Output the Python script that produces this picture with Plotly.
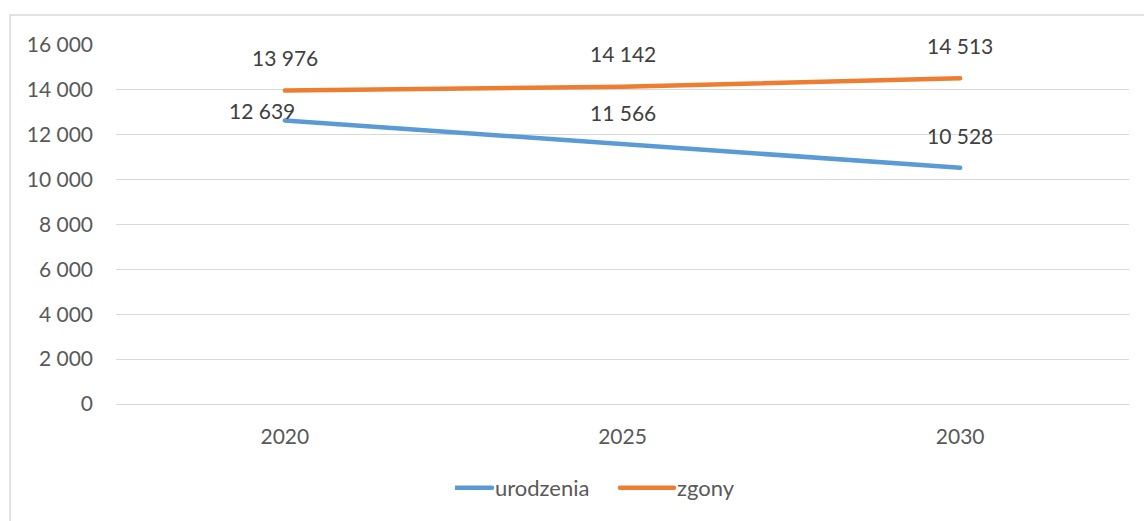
import plotly.graph_objects as go

years = ["2020", "2025", "2030"]
urodzenia = [12639, 11566, 10528]
zgony = [13976, 14142, 14513]
y_ticks = [0, 2000, 4000, 6000, 8000, 10000, 12000, 14000, 16000]

def fmt(v):
    return f"{v:,}".replace(",", " ")

FONT = "Lato, 'Open Sans', sans-serif"

fig = go.Figure()
fig.add_trace(go.Scatter(x=years, y=urodzenia, mode="lines", name="urodzenia",
                         line=dict(color="#5B9BD5", width=4.5)))
fig.add_trace(go.Scatter(x=years, y=zgony, mode="lines", name="zgony",
                         line=dict(color="#ED7D31", width=4.5)))

# data labels (category index positions)
blue_xshift = [-23, 0, 0]
blue_yshift = [10, 32, 32]
for i, v in enumerate(urodzenia):
    fig.add_annotation(x=i, y=v, text=fmt(v), showarrow=False,
                       xshift=blue_xshift[i], yshift=blue_yshift[i],
                       font=dict(family=FONT, size=21, color="#404040"))
for i, v in enumerate(zgony):
    fig.add_annotation(x=i, y=v, text=fmt(v), showarrow=False, yshift=33,
                       font=dict(family=FONT, size=21, color="#404040"))

# chart border
fig.add_shape(type="rect", xref="paper", yref="paper",
              x0=-0.1046, x1=1.2, y0=-0.6, y1=1.0836,
              line=dict(color="#D9D9D9", width=1.5), layer="below")

fig.update_layout(
    width=1144, height=521,
    margin=dict(l=116, r=15, t=45, b=117),
    paper_bgcolor="white", plot_bgcolor="white",
    font=dict(family=FONT, size=21, color="#595959"),
    showlegend=True,
    legend=dict(orientation="h", x=(455 - 116) / 1013, xanchor="left",
                y=(404 - 488) / 359, yanchor="middle",
                entrywidth=137, entrywidthmode="pixels",
                font=dict(family=FONT, size=22, color="#595959"),
                bgcolor="rgba(0,0,0,0)"),
    xaxis=dict(type="category", range=[-0.5, 2.5], showgrid=False,
               showline=False, zeroline=False, ticks="",
               ticklabelstandoff=18,
               tickfont=dict(family=FONT, size=21, color="#595959")),
    yaxis=dict(range=[0, 16000], tickvals=y_ticks,
               ticktext=[fmt(v) for v in y_ticks],
               showgrid=True, gridcolor="#D9D9D9", gridwidth=1.3,
               zeroline=True, zerolinecolor="#D9D9D9", zerolinewidth=1.3,
               showline=False, ticks="", ticklabelstandoff=22,
               tickfont=dict(family=FONT, size=21, color="#595959")),
)

post = (
    "document.body.style.margin='0';document.body.style.overflow='hidden';"
    "document.querySelectorAll('.scatterlayer path.js-line').forEach(function(p){p.style.strokeLinecap='round';});"
    "document.querySelectorAll('.legendlines path').forEach(function(p){p.setAttribute('d','M-17,0h54');p.style.strokeLinecap='round';});"
)
fig.write_html("out.html", config={"displayModeBar": False}, post_script=post)
